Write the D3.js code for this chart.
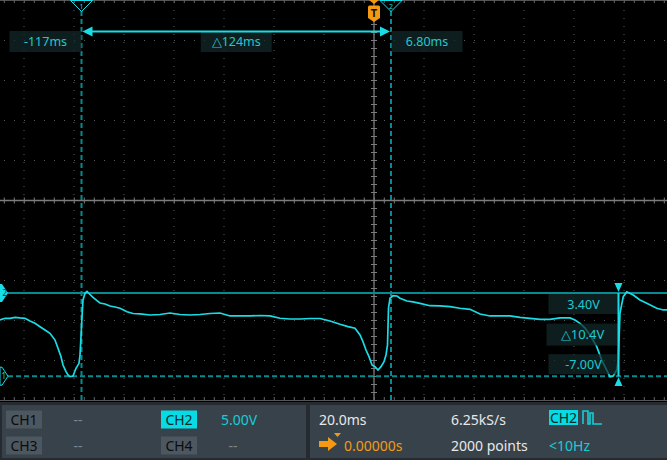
<!DOCTYPE html>
<html><head><meta charset="utf-8">
<script src="https://cdn.jsdelivr.net/npm/d3@7"></script>
<style>
html,body{margin:0;padding:0;background:#000;}
svg{display:block;font-family:"Noto Sans","Open Sans",sans-serif;}
</style></head>
<body>
<svg id="c" width="667" height="460"></svg>
<script>
// ---- Data (time in ms relative to trigger, CH2 voltage in V) ----
const timeMs = [-149.6,-147.6,-145.6,-143.6,-141.6,-139.6,-137.6,-135.6,-133.6,-131.6,-129.6,-127.6,-126.4,-125.2,-124.4,-123.2,-122.4,-121.6,-120.4,-119.2,-118.0,-117.6,-117.2,-116.8,-116.4,-115.6,-114.8,-113.6,-112.4,-110.8,-109.6,-107.6,-105.6,-103.6,-101.6,-98.8,-96.4,-93.6,-89.6,-85.6,-81.6,-77.6,-73.6,-69.6,-65.6,-61.6,-57.6,-53.6,-49.6,-45.6,-41.6,-37.6,-33.6,-29.6,-25.6,-21.6,-17.6,-13.6,-10.4,-7.6,-5.6,-4.4,-3.2,-2.0,-0.8,0.4,1.6,2.8,4.0,4.8,5.4,5.8,6.4,7.6,9.2,10.4,13.2,15.6,18.4,22.4,26.4,30.4,34.4,38.4,42.4,46.4,50.4,54.4,58.4,62.4,66.4,70.4,74.4,78.4,80.4,82.4,84.4,86.4,89.1,91.1,93.1,94.4,95.7,97.1,97.7,98.4,99.7,101.1,103.7,106.4,109.1,113.1,115.7,117.2];
const volts  = [0.03,0.24,0.24,0.36,0.28,0.24,-0.10,-0.39,-0.81,-1.23,-1.64,-2.48,-3.51,-4.56,-5.60,-6.44,-6.85,-7.06,-6.98,-6.01,-5.39,-4.35,-2.06,0.44,2.53,3.36,3.59,3.21,2.84,2.44,2.15,2.03,1.78,1.65,1.49,1.06,0.84,0.78,0.65,0.71,0.90,0.71,0.65,0.71,0.84,0.90,0.53,0.53,0.53,0.59,0.53,0.24,0.15,0.15,0.21,0.21,-0.10,-0.51,-0.81,-1.01,-1.85,-2.69,-3.73,-4.56,-5.60,-5.81,-6.23,-5.81,-5.19,-4.35,-3.10,1.53,2.74,3.06,3.03,2.74,2.40,2.28,2.11,1.81,1.78,1.69,1.49,1.36,0.78,0.53,0.53,0.53,0.36,0.24,0.11,0.11,0.28,0.28,0.03,-0.39,-0.98,-1.85,-3.31,-4.98,-6.23,-7.06,-6.98,-6.23,-4.98,0.90,2.94,3.56,3.15,2.53,2.11,1.49,1.28,1.28];
const timeCursors = [-117, 6.80];          // ms
const timeCursorLabels = ["-117ms", "6.80ms"];
const timeDeltaLabel = "\u25B3124ms";
const voltCursors = [3.40, -7.00];         // V
const voltCursorLabels = ["3.40V", "-7.00V"];
const voltDeltaLabel = "\u25B310.4V";
const panelRow1 = ["CH1","--","CH2","5.00V","20.0ms","6.25kS/s","CH2"];
const panelRow2 = ["CH3","--","CH4","--","0.00000s","2000 points","<10Hz"];

// ---- Scales ----
const W = 667, H = 400;
const x = d3.scaleLinear().domain([-149.6, 117.2]).range([0, W]);   // 20 ms/div = 50px
const y = d3.scaleLinear().domain([-10, 40]).range([400.2, 0.2]);   // 5 V/div = 40px

const svg = d3.select("#c");
svg.append("rect").attr("width",667).attr("height",460).attr("fill","#000");

const CY = "#19dde6", TEAL = "#078b92", GRID = "#5c5c5c", AX = "#7c7c7c";
const g = svg.append("g");

// ---- Grid ----
const xTrig = x(0), yCen = 200.5;
const vGrid = d3.range(-7, 6).map(k => xTrig + k*50).filter(v => v > 0 && v < W);
g.selectAll(".vg").data(vGrid).join("line")
  .attr("x1", d=>d).attr("x2", d=>d).attr("y1", 0).attr("y2", 400)
  .attr("stroke", GRID).attr("stroke-width",1).attr("stroke-dasharray","1,7").attr("stroke-dashoffset",-2);
const hGrid = d3.range(1,10).map(k => k*40 + 0.5).filter(v => Math.abs(v - yCen) > 2);
g.selectAll(".hg").data(hGrid).join("line")
  .attr("x1", 0).attr("x2", W).attr("y1", d=>d).attr("y2", d=>d)
  .attr("stroke", GRID).attr("stroke-width",1).attr("stroke-dasharray","1,9").attr("stroke-dashoffset",-4);
// top / bottom border
g.append("line").attr("x1",0).attr("x2",W).attr("y1",0.5).attr("y2",0.5).attr("stroke","#555");
g.append("line").attr("x1",0).attr("x2",W).attr("y1",400.5).attr("y2",400.5).attr("stroke","#555");
g.selectAll(".tt").data(d3.range(4.3, W, 10)).join("line")
  .attr("x1",d=>d).attr("x2",d=>d).attr("y1",0).attr("y2",3).attr("stroke","#666");
g.selectAll(".bt").data(d3.range(4.3, W, 10)).join("line")
  .attr("x1",d=>d).attr("x2",d=>d).attr("y1",397).attr("y2",400).attr("stroke","#666");
// center axes
g.append("line").attr("x1",0).attr("x2",W).attr("y1",yCen).attr("y2",yCen).attr("stroke",AX).attr("stroke-width",1.3);
g.selectAll(".ht").data(d3.range(4.3, W, 10)).join("line")
  .attr("x1",d=>d).attr("x2",d=>d).attr("y1",yCen-3).attr("y2",yCen+3).attr("stroke",AX);
g.append("line").attr("x1",xTrig).attr("x2",xTrig).attr("y1",0).attr("y2",400).attr("stroke",AX).attr("stroke-width",1.3);
g.selectAll(".vt").data(d3.range(0.5, 400, 8)).join("line")
  .attr("x1",xTrig-3).attr("x2",xTrig+3).attr("y1",d=>d).attr("y2",d=>d).attr("stroke",AX);

// ---- Cursors ----
timeCursors.forEach(t => {
  g.append("line").attr("x1",x(t)).attr("x2",x(t)).attr("y1",11).attr("y2",400)
    .attr("stroke",TEAL).attr("stroke-width",2).attr("stroke-dasharray","5,3");
});
g.append("line").attr("x1",0).attr("x2",W).attr("y1",y(voltCursors[0])).attr("y2",y(voltCursors[0]))
  .attr("stroke",TEAL).attr("stroke-width",2);
g.append("line").attr("x1",0).attr("x2",W).attr("y1",y(voltCursors[1])).attr("y2",y(voltCursors[1]))
  .attr("stroke",TEAL).attr("stroke-width",2).attr("stroke-dasharray","5,3");

// ---- Trace ----
const pts = timeMs.map((t,i)=>[t, volts[i]]);
g.append("path").datum(pts)
  .attr("d", d3.line().x(d=>x(d[0])).y(d=>y(d[1])))
  .attr("fill","none").attr("stroke",CY).attr("stroke-width",1.7).attr("stroke-linejoin","miter");

// ---- Time cursor labels ----
const x1 = x(timeCursors[0]), x2 = x(timeCursors[1]);
const boxFill = "rgba(20,42,42,0.72)";
function labelBox(cx, cy, w, h, txt, fs) {
  g.append("rect").attr("x",cx-w/2).attr("y",cy-h/2).attr("width",w).attr("height",h).attr("fill",boxFill);
  g.append("text").attr("x",cx).attr("y",cy).attr("dy","0.36em").attr("text-anchor","middle")
    .attr("fill","#1fc9d1").attr("font-size",fs||12.5).text(txt);
}
labelBox(x1-36, 41.5, 72, 21, timeCursorLabels[0]);
labelBox((x1+x2)/2, 41.5, 71, 21, timeDeltaLabel);
labelBox(x2+36, 41.5, 71, 21, timeCursorLabels[1]);
// arrow
g.append("line").attr("x1",x1+10).attr("x2",x2-10).attr("y1",31.5).attr("y2",31.5).attr("stroke",CY).attr("stroke-width",2);
g.append("path").attr("d",`M${x1+1},31.5 L${x1+11},26.5 L${x1+11},36.5 Z`).attr("fill",CY);
g.append("path").attr("d",`M${x2-1},31.5 L${x2-11},26.5 L${x2-11},36.5 Z`).attr("fill",CY);

// ---- Voltage cursor labels ----
const xv = 618.5, yv1 = y(voltCursors[0]), yv2 = y(voltCursors[1]);
labelBox(xv-35, yv1+11, 70, 20, voltCursorLabels[0]);
labelBox(xv-36, (yv1+yv2)/2, 72, 22, voltDeltaLabel, 13);
labelBox(xv-35, yv2-12, 70, 20, voltCursorLabels[1]);
g.append("line").attr("x1",xv).attr("x2",xv).attr("y1",yv1).attr("y2",yv2).attr("stroke",CY).attr("stroke-width",2);
g.append("path").attr("d",`M${xv-4},283 L${xv+4},283 L${xv},${yv1-1} Z`).attr("fill",CY);
g.append("path").attr("d",`M${xv-4},386 L${xv+4},386 L${xv},${yv2+1} Z`).attr("fill",CY);

// ---- Top markers ----
[[x1,"1"],[x2,"2"]].forEach(([mx,lab])=>{
  g.append("path").attr("d",`M${mx-11},0.5 L${mx+11},0.5 L${mx},11.5 Z`).attr("fill","none").attr("stroke",CY).attr("stroke-width",1);
  g.append("text").attr("x",mx).attr("y",8.5).attr("text-anchor","middle").attr("font-size",7).attr("fill",CY).text(lab);
});
// trigger marker
g.append("path").attr("d",`M${xTrig-5},0 L${xTrig+5},0 L${xTrig},4 Z`).attr("fill","#f39a12");
g.append("path").attr("d",`M${xTrig-6},7 Q${xTrig-6},5.5 ${xTrig-4.5},5.5 L${xTrig+4.5},5.5 Q${xTrig+6},5.5 ${xTrig+6},7 L${xTrig+6},18 L${xTrig},22 L${xTrig-6},18 Z`).attr("fill","#f39a12");
g.append("text").attr("x",xTrig).attr("y",17).attr("text-anchor","middle").attr("font-size",11).attr("font-weight","bold").attr("fill","#1a1000").text("T");

// ---- Left markers ----
g.append("path").attr("d",`M0,${yv1-9} L2,${yv1-9} L8,${yv1} L2,${yv1+9} L0,${yv1+9} Z`).attr("fill",CY);
g.append("text").attr("x",2.5).attr("y",yv1+3).attr("font-size",8).attr("fill","#033").text("2");
g.append("path").attr("d",`M0,${yv2-9} L2,${yv2-9} L8,${yv2} L2,${yv2+9} L0,${yv2+9} Z`).attr("fill","#000").attr("stroke",CY).attr("stroke-width",1);
g.append("text").attr("x",1.5).attr("y",yv2+3).attr("font-size",8).attr("fill",CY).text("1");

// ---- Bottom panel ----
const p = svg.append("g");
p.append("rect").attr("x",0).attr("y",402).attr("width",667).attr("height",58).attr("fill","#252b30");
p.append("rect").attr("x",2).attr("y",405).attr("width",304).attr("height",53).attr("fill","#38424a");
p.append("rect").attr("x",310).attr("y",405).attr("width",357).attr("height",53).attr("fill","#38424a");
const FS = 14;
function chipBox(bx, by, txt, fill, col){
  p.append("rect").attr("x",bx).attr("y",by).attr("width",36).attr("height",18).attr("fill",fill);
  p.append("text").attr("x",bx+18).attr("y",by+9).attr("dy","0.36em").attr("text-anchor","middle").attr("font-size",FS).attr("fill",col).text(txt);
}
function ptext(tx, ty, txt, col, anchor){
  p.append("text").attr("x",tx).attr("y",ty).attr("dy","0.36em").attr("text-anchor",anchor||"start").attr("font-size",FS).attr("fill",col).text(txt);
}
const r1 = 419.5, r2 = 445.5;
chipBox(6, r1-9, panelRow1[0], "#4d5760", "#0c0c0c");
ptext(78, r1, panelRow1[1], "#7f878d", "middle");
chipBox(161, r1-9, panelRow1[2], "#08dbe4", "#062a2c");
ptext(221, r1, panelRow1[3], "#16cdd6");
chipBox(6, r2-9, panelRow2[0], "#4d5760", "#0c0c0c");
ptext(78, r2, panelRow2[1], "#7f878d", "middle");
chipBox(161, r2-9, panelRow2[2], "#4d5760", "#0c0c0c");
ptext(233, r2, panelRow2[3], "#7f878d", "middle");
ptext(319, r1, panelRow1[4], "#e6e8ea");
ptext(451, r1, panelRow1[5], "#e6e8ea");
p.append("rect").attr("x",549).attr("y",410).attr("width",29).attr("height",15).attr("fill","#08dbe4");
p.append("text").attr("x",563.5).attr("y",417.5).attr("dy","0.36em").attr("text-anchor","middle").attr("font-size",FS).attr("fill","#062a2c").text(panelRow1[6]);
p.append("path").attr("d","M583,424 V411 H588 V424 H590 V413 H593 V424 H602").attr("fill","none").attr("stroke","#16cdd6").attr("stroke-width",1.6);
// trigger position row
p.append("path").attr("d","M319,441 H328 V437 L337,444 L328,451 V447 H319 Z").attr("fill","#f39a12");
p.append("path").attr("d","M334,433 H341 L337.5,437 Z").attr("fill","#f39a12");
ptext(344, r2, panelRow2[4], "#f39a12");
ptext(451, r2, panelRow2[5], "#e6e8ea");
ptext(549, r2, panelRow2[6], "#16cdd6");
</script>
</body></html>
